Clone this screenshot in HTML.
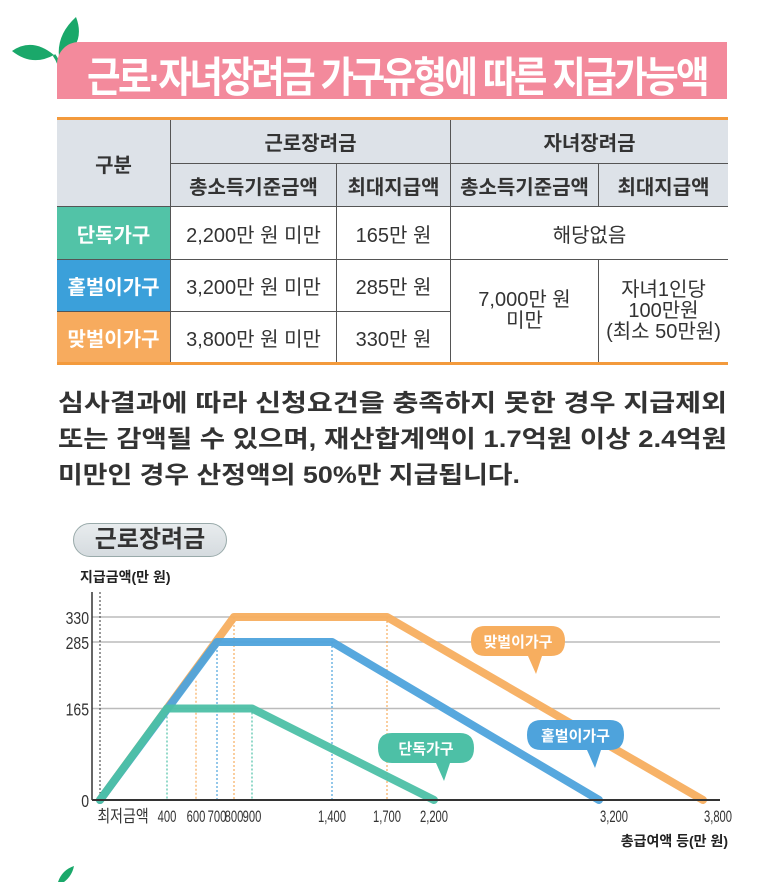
<!DOCTYPE html>
<html><head><meta charset="utf-8">
<style>
body{margin:0;width:763px;height:882px;background:#fff;overflow:hidden;position:relative;font-family:"Liberation Sans","Noto Sans CJK KR",sans-serif;}
.abs{position:absolute;}
.banner{left:57px;top:42px;width:670px;height:57px;background:#f38a9c;border-top-left-radius:22px;}
.banner span{position:absolute;left:30px;top:2px;font-size:42px;font-weight:bold;color:#fff;letter-spacing:-3px;transform-origin:left;white-space:nowrap;}
table{position:absolute;left:57px;top:117px;width:671px;border-collapse:collapse;border-top:3px solid #f39a3c;border-bottom:3px solid #f39a3c;font-size:20px;color:#333;}
td{border:1.5px solid #555;text-align:center;padding:0;}
tr td:first-child{border-left:none;}
tr td:last-child{border-right:none;}
.h{background:#dde2e8;font-weight:bold;}
.rl{color:#fff;font-weight:bold;font-size:20px;}
.pl{position:absolute;left:58px;width:670px;margin:0;font-size:24px;font-weight:bold;line-height:36px;color:#333;white-space:nowrap;transform-origin:left;}
.pill{left:73px;top:523px;width:152px;height:32px;border:1.5px solid #9aa;border-radius:17px;background:linear-gradient(#e8ecee,#d5dbdf);font-size:24px;font-weight:bold;color:#333;text-align:center;line-height:32px;}
</style></head><body>
<svg class="abs" style="left:10px;top:15px" width="75" height="70"><path d="M50 48 Q44 22 66 2 Q76 28 52 44Z" fill="#1aa86a"/><path d="M44 40 Q22 22 2 36 Q22 52 44 40Z" fill="#1aa86a"/><path d="M52 62 Q50 48 44 40" stroke="#1aa86a" stroke-width="3" fill="none"/></svg>
<div class="abs banner"><span id="tt">근로·자녀장려금 가구유형에 따른 지급가능액</span></div>
<table>
<tr style="height:45px"><td class="h" rowspan="2" style="width:113px">구분</td><td class="h" colspan="2">근로장려금</td><td class="h" colspan="2">자녀장려금</td></tr>
<tr style="height:43px"><td class="h" style="width:165px">총소득기준금액</td><td class="h" style="width:113px">최대지급액</td><td class="h" style="width:147px">총소득기준금액</td><td class="h">최대지급액</td></tr>
<tr style="height:53px"><td class="rl" style="background:#52c3a7">단독가구</td><td>2,200만 원 미만</td><td>165만 원</td><td colspan="2">해당없음</td></tr>
<tr style="height:52px"><td class="rl" style="background:#3ba0da">홑벌이가구</td><td>3,200만 원 미만</td><td>285만 원</td><td rowspan="2" style="line-height:21px">7,000만 원<br>미만</td><td rowspan="2" style="line-height:21px">자녀1인당<br>100만원<br>(최소 50만원)</td></tr>
<tr style="height:52px"><td class="rl" style="background:#f7ab5e">맞벌이가구</td><td>3,800만 원 미만</td><td>330만 원</td></tr>
</table>
<div>
<div class="pl fit" style="top:386px" data-fit="669">심사결과에 따라 신청요건을 충족하지 못한 경우 지급제외</div>
<div class="pl fit" style="top:422px" data-fit="669">또는 감액될 수 있으며, 재산합계액이 1.7억원 이상 2.4억원</div>
<div class="pl fit" style="top:458px" data-fit="462">미만인 경우 산정액의 50%만 지급됩니다.</div>
</div>
<div class="abs pill">근로장려금</div>
<svg id="chart" class="abs" style="left:0;top:560px" width="763" height="322"></svg>
<script>
const xTicks=[0,400,600,700,800,900,1400,1700,2200,3200,3800];
const xTickLabels=["최저금액","400","600","700","800","900","1,400","1,700","2,200","3,200","3,800"];
const yTicks=[0,165,285,330];
const seriesNames=["맞벌이가구","홑벌이가구","단독가구"];
const seriesX=[[0,800,1700,3800],[0,700,1400,3200],[0,400,900,2200]];
const seriesY=[[0,330,330,0],[0,285,285,0],[0,165,165,0]];
const colors=["#f7ae5f","#4ea3dc","#4dc0a6"];
const dropX=[[800,1700,600],[700,1400],[400,900]];
const dropY=[[330,330,215],[285,285],[165,165]];
const xDom=[0,400,600,700,800,900,1400,1700,2200,3200,3800];
const xRng=[100,167,196,217,234,252,332,387,434,599,703];
function xs(v){for(let i=0;i<xDom.length-1;i++){if(v<=xDom[i+1]){return xRng[i]+(v-xDom[i])/(xDom[i+1]-xDom[i])*(xRng[i+1]-xRng[i]);}}return xRng[xRng.length-1];}
function ys(v){return 240-v*(240-57)/330;}
const s=document.getElementById('chart');const NS="http://www.w3.org/2000/svg";
function mk(t,a,txt){const e=document.createElementNS(NS,t);for(const k in a)e.setAttribute(k,a[k]);if(txt!=null)e.textContent=txt;s.appendChild(e);return e;}
let e;
e=mk('text',{x:80,y:22,'font-size':14,'font-weight':'bold',fill:'#222'},'지급금액(만 원)');


yTicks.forEach(v=>{
 if(v>0){e=mk('line',{x1:92,x2:720,y1:ys(v),y2:ys(v),stroke:'#bbb','stroke-width':1.5});
 
 }
 e=mk('text',{x:0,y:0,'font-size':18,'text-anchor':'end',fill:'#333',transform:`translate(89,${ys(v)+7}) scale(0.78,1)`},String(v));
 
 
});
e=mk('line',{x1:92,x2:92,y1:32,y2:240,stroke:'#333','stroke-width':1.5});


e=mk('line',{x1:100,x2:100,y1:32,y2:240,stroke:'#333','stroke-width':1,'stroke-dasharray':'2,2'});


dropX.forEach((arr,i)=>arr.forEach((v,j)=>{
 e=mk('line',{x1:xs(v),x2:xs(v),y1:ys(dropY[i][j]),y2:240,stroke:colors[i],'stroke-width':1.2,'stroke-dasharray':'2,2'});
 
 
}));
seriesX.forEach((xa,i)=>{
 const pts=xa.map((v,j)=>xs(v)+','+ys(seriesY[i][j])).join(' ');
 e=mk('polyline',{points:pts,fill:'none',stroke:colors[i],'stroke-width':8,'stroke-linejoin':'round','stroke-linecap':'round',opacity:0.95});
 
 
});
e=mk('line',{x1:92,x2:720,y1:240,y2:240,stroke:'#333','stroke-width':2});


xTicks.forEach((v,i)=>{
 const cx=i==0?xs(v)+23:(v>=3200?xs(v)+15:xs(v));
 e=mk('text',{x:0,y:0,'font-size':17,'text-anchor':'middle',fill:'#333',transform:`translate(${cx},262) scale(${i==0?0.82:0.66},1)`},xTickLabels[i]);
 
 
});
e=mk('text',{x:728,y:286,'font-size':14,'font-weight':'bold','text-anchor':'end',fill:'#222'},'총급여액 등(만 원)');


const bubbles=[[471,66,94],[527,160,97],[378,173,96]];
const tails=[[538,30],[597,30],[446,30]];
bubbles.forEach((b,i)=>{
 const [x,y,w]=b;const tx=tails[i][0];
 e=mk('path',{d:`M${x+14},${y} H${x+w-14} Q${x+w},${y} ${x+w},${y+15} Q${x+w},${y+30} ${x+w-14},${y+30} H${tx+4} L${tx-2},${y+48} L${tx-10},${y+30} H${x+14} Q${x},${y+30} ${x},${y+15} Q${x},${y} ${x+14},${y}Z`,fill:colors[i]});
 
 
 e=mk('text',{x:x+w/2,y:y+21,'font-size':15,'font-weight':'bold','text-anchor':'middle',fill:'#fff'},seriesNames[i]);
 
 
});
function fit(el,w){el.style.transform='none';const r=el.getBoundingClientRect().width;if(r>0)el.style.transform='scaleX('+(w/r)+')';}
document.querySelectorAll('.fit').forEach(el=>{el.style.width='auto';el.style.display='inline-block';fit(el,+el.dataset.fit);});
const tt=document.getElementById('tt');fit(tt,620);
</script>
<svg class="abs" style="left:50px;top:866px" width="30" height="16"><path d="M8 16 Q12 4 24 0 Q22 10 14 16Z" fill="#1aa86a"/></svg>
</body></html>
